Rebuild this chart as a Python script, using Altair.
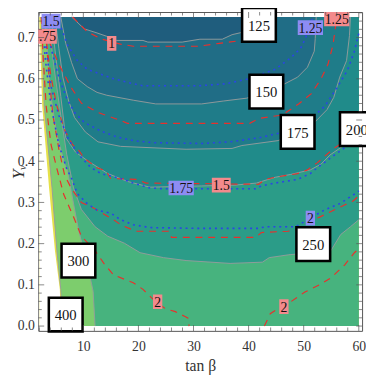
import altair as alt
import pandas as pd

SERIF = "Liberation Serif, Times New Roman, DejaVu Serif, serif"
XMIN, XMAX = 1.83, 60.6
YMIN, YMAX = -0.0117, 0.762
TB0, TB1, YB0, YB1 = 2.0, 60.0, 0.0, 0.75

X_LABELS = [10, 20, 30, 40, 50, 60]
Y_LABELS = [0.0, 0.1, 0.2, 0.3, 0.4, 0.5, 0.6, 0.7]
X_MINOR = [v for v in range(2, 61, 2) if v % 10]
Y_MINOR = [round(0.02 * k, 2) for k in range(1, 39) if k % 5]

# boundary of excluded (white) region
EDGE_TB = [2.0, 2.54, 3.78, 4.85, 5.74, 5.91]
EDGE_Y = [0.75, 0.534, 0.335, 0.183, 0.089, 0.0]
# gray contours (mass)
C400_TB = [2.36, 2.90, 4.32, 5.20, 5.91, 6.27]
C400_Y = [0.75, 0.534, 0.335, 0.183, 0.089, 0.0]
C300_TB = [3.07, 3.96, 5.2, 6.63, 7.16, 7.69, 9.11, 10.89, 11.78, 12.13]
C300_Y = [0.75, 0.571, 0.464, 0.393, 0.375, 0.335, 0.234, 0.141, 0.084, 0.0]
C250_TB = [3.61, 4.67, 5.91, 6.98, 8.22, 9.64, 12.13, 14.44, 17.46, 20.30, 24.56, 28.65, 36.64, 42.50, 43.75, 47.30, 51.74, 54.94, 56.71, 58.49, 60.0]
C250_Y = [0.75, 0.628, 0.511, 0.417, 0.335, 0.283, 0.241, 0.218, 0.201, 0.178, 0.166, 0.159, 0.152, 0.155, 0.166, 0.173, 0.178, 0.183, 0.222, 0.241, 0.258]
C200_TB = [4.14, 5.03, 5.91, 6.80, 8.58, 10.89, 14.44, 17.99, 22.08, 31.49, 37.53, 41.44, 44.82, 47.66, 51.21, 53.16, 54.76, 57.25, 60.0]
C200_Y = [0.75, 0.651, 0.557, 0.457, 0.422, 0.400, 0.370, 0.351, 0.337, 0.340, 0.342, 0.347, 0.361, 0.368, 0.379, 0.393, 0.415, 0.438, 0.482]
C175_TB = [4.85, 5.56, 6.27, 7.34, 8.40, 10.36, 12.66, 16.75, 28.65, 37.00, 38.78, 45.36, 48.90, 52.10, 54.23, 55.47, 56.54, 57.78, 58.31, 58.49]
C175_Y = [0.75, 0.674, 0.604, 0.546, 0.506, 0.471, 0.447, 0.436, 0.429, 0.431, 0.438, 0.450, 0.471, 0.496, 0.525, 0.555, 0.604, 0.644, 0.705, 0.75]
C150_TB = [5.91, 6.80, 7.87, 8.93, 10.71, 12.49, 14.26, 19.06, 23.14, 31.49, 35.40, 39.67, 43.22, 46.59, 48.90, 50.68, 51.92, 52.10, 52.27]
C150_Y = [0.75, 0.686, 0.639, 0.600, 0.581, 0.567, 0.560, 0.548, 0.539, 0.539, 0.546, 0.553, 0.567, 0.588, 0.604, 0.628, 0.667, 0.698, 0.75]
C125_TB = [7.87, 10.18, 12.31, 14.26, 16.04, 20.83, 21.72, 27.94, 31.17, 35.22, 37.00, 38.60, 41.97]
C125_Y = [0.75, 0.721, 0.712, 0.703, 0.693, 0.693, 0.689, 0.689, 0.696, 0.696, 0.707, 0.712, 0.75]

# red dashed contours
R1_TB = [8.05, 10.71, 13.38, 16.75, 19.06, 30.96, 34.69, 38.78, 41.44, 44.29, 45.0]
R1_Y = [0.75, 0.714, 0.696, 0.684, 0.679, 0.679, 0.686, 0.693, 0.714, 0.745, 0.75]
R125_TB = [3.07, 3.78, 5.56, 7.69, 9.64, 12.66, 16.75, 17.99, 40.20, 41.97, 45.52, 46.77, 49.08, 51.39, 53.16, 54.40, 55.30, 55.65, 56.0]
R125_Y = [0.75, 0.691, 0.635, 0.581, 0.541, 0.518, 0.499, 0.492, 0.492, 0.504, 0.511, 0.518, 0.539, 0.564, 0.600, 0.635, 0.681, 0.714, 0.75]
R15_TB = [2.90, 3.43, 4.14, 5.20, 6.63, 8.05, 8.93, 10.18, 12.49, 14.09, 14.97, 19.59, 21.37, 41.80, 43.04, 44.82, 48.90, 50.68, 52.45, 55.47, 57.25, 60.0]
R15_Y = [0.75, 0.674, 0.604, 0.534, 0.475, 0.440, 0.431, 0.407, 0.384, 0.377, 0.358, 0.356, 0.347, 0.344, 0.356, 0.361, 0.370, 0.379, 0.396, 0.431, 0.447, 0.506]
R175_TB = [2.72, 3.25, 3.78, 4.49, 5.56, 6.63, 7.87, 9.64, 11.95, 15.50, 16.75, 19.59, 25.63, 26.0, 30.96, 41.26, 42.33, 47.12, 48.90, 50.68, 52.98, 56.54, 59.02, 60.0]
R175_Y = [0.75, 0.698, 0.604, 0.511, 0.429, 0.365, 0.333, 0.300, 0.286, 0.258, 0.246, 0.230, 0.230, 0.215, 0.215, 0.215, 0.227, 0.230, 0.234, 0.251, 0.265, 0.288, 0.304, 0.316]
R2A_TB = [2.36, 2.72, 3.25, 4.14, 5.20, 6.45, 8.22, 9.64, 12.13, 13.73, 15.50, 19.06, 20.83, 23.14, 24.92, 26.70, 28.47, 29.0, 29.2]
R2A_Y = [0.75, 0.651, 0.534, 0.440, 0.382, 0.319, 0.265, 0.218, 0.183, 0.152, 0.124, 0.105, 0.089, 0.059, 0.042, 0.035, 0.023, 0.019, 0.0]
R2B_TB = [42.86, 43.93, 45.36, 47.66, 50.14, 52.98, 54.94, 57.42, 59.20, 60.0]
R2B_Y = [0.0, 0.030, 0.042, 0.059, 0.082, 0.101, 0.117, 0.148, 0.178, 0.187]

# blue dotted contours
B125_TB = [5.20, 6.04, 7.16, 8.93, 10.71, 13.20, 15.50, 19.06, 20.83, 30.96, 35.94, 40.02, 44.82, 47.66, 49.44, 50.32, 51.21, 51.74]
B125_Y = [0.75, 0.721, 0.681, 0.644, 0.623, 0.611, 0.600, 0.588, 0.583, 0.583, 0.588, 0.600, 0.623, 0.651, 0.674, 0.698, 0.733, 0.75]
B15_TB = [3.43, 4.14, 5.56, 6.98, 8.40, 10.18, 13.20, 16.04, 19.06, 22.61, 31.49, 36.64, 41.97, 45.52, 47.30, 51.39, 53.87, 56.18, 57.96, 59.20, 60.0]
B15_Y = [0.75, 0.674, 0.604, 0.553, 0.518, 0.494, 0.473, 0.459, 0.450, 0.445, 0.443, 0.447, 0.457, 0.468, 0.480, 0.504, 0.534, 0.581, 0.621, 0.667, 0.710]
B175_TB = [2.72, 3.25, 4.14, 5.56, 7.34, 9.11, 11.24, 13.20, 16.75, 19.06, 22.08, 24.92, 31.17, 41.26, 42.33, 44.82, 48.90, 51.21, 52.45, 53.69, 56.00, 57.78, 60.0]
B175_Y = [0.75, 0.674, 0.581, 0.511, 0.452, 0.417, 0.386, 0.370, 0.358, 0.347, 0.335, 0.333, 0.333, 0.333, 0.340, 0.347, 0.356, 0.370, 0.384, 0.396, 0.419, 0.436, 0.461]
B2_TB = [2.54, 3.07, 4.14, 5.56, 6.98, 7.87, 8.93, 10.71, 12.49, 14.97, 16.75, 19.06, 22.08, 30.96, 41.80, 43.04, 48.54, 51.21, 53.69, 56.54, 59.56, 60.0]
B2_Y = [0.75, 0.651, 0.534, 0.440, 0.382, 0.358, 0.321, 0.297, 0.281, 0.274, 0.258, 0.246, 0.239, 0.237, 0.237, 0.241, 0.241, 0.262, 0.281, 0.297, 0.323, 0.328]

# labels
GRAY_LBL = ["125", "150", "175", "200", "250", "300", "400"]
GRAY_TB = [41.88, 43.22, 48.90, 59.65, 51.74, 9.11, 6.80]
GRAY_Y = [0.731, 0.569, 0.471, 0.478, 0.199, 0.159, 0.028]
RED_LBL = ["1", "1.75", "1.25", "1.5", "2", "2"]
RED_TB = [15.15, 2.9, 56.0, 35.04, 23.49, 46.41]
RED_Y = [0.686, 0.703, 0.745, 0.342, 0.059, 0.047]
BLUE_LBL = ["1.5", "1.25", "1.75", "2"]
BLUE_TB = [4.14, 51.21, 27.76, 51.21]
BLUE_Y = [0.740, 0.724, 0.335, 0.262]

COLORS = ["#1f5d7d", "#206d86", "#1f7c89", "#208b8a", "#2b9c88", "#47b37e", "#7dcd6d", "#e6e14a"]

W, H = 331, 326
SX = alt.Scale(domain=[XMIN, XMAX], nice=False, zero=False)
SY = alt.Scale(domain=[YMIN, YMAX], nice=False, zero=False)
AX = alt.Axis(values=X_LABELS, format="d", title="tan β", ticks=False, domain=False, grid=False,
              labelFont=SERIF, labelFontSize=14, labelColor="#333", labelPadding=9,
              titleFont=SERIF, titleFontSize=16, titleFontWeight="normal", titleColor="#333", titlePadding=5)
AY = alt.Axis(values=Y_LABELS, format=".1f", title="Yᵥ", ticks=False, domain=False, grid=False,
              labelFont=SERIF, labelFontSize=14, labelColor="#333", labelPadding=4,
              titleFont=SERIF, titleFontSize=18, titleFontWeight="normal", titleFontStyle="italic",
              titleColor="#333", titleX=-20, titleY=H / 2, titleAngle=270,
              titleAlign="center", titleBaseline="middle")


def X(f):
    return alt.X(f, type="quantitative", scale=SX, axis=AX)


def Y(f):
    return alt.Y(f, type="quantitative", scale=SY, axis=AY)


def region_right(tbs, ys):
    rows = [dict(tb=a, lo=b, hi=YB1) for a, b in zip(tbs, ys)]
    rows.append(dict(tb=TB1, lo=YB0, hi=YB1))
    return pd.DataFrame(rows)


def region_inside(tbs, ys):
    return pd.DataFrame([dict(tb=a, lo=b, hi=YB1) for a, b in zip(tbs, ys)])


def region_left(tbs, ys):
    return pd.DataFrame([dict(tb=a, lo=YB0, hi=b) for a, b in zip(tbs, ys)])


def area(df, color):
    return alt.Chart(df).mark_area(color=color, opacity=1).encode(
        x=X("tb"), y=Y("lo"), y2=alt.Y2("hi"))


base = pd.DataFrame([dict(tb=TB0, lo=YB0, hi=YB1), dict(tb=TB1, lo=YB0, hi=YB1)])
layers = [
    area(base, COLORS[7]),
    area(region_right(C400_TB, C400_Y), COLORS[6]),
    area(region_right(C300_TB, C300_Y), COLORS[5]),
    area(region_inside(C250_TB, C250_Y), COLORS[4]),
    area(region_inside(C200_TB, C200_Y), COLORS[3]),
    area(region_inside(C175_TB, C175_Y), COLORS[2]),
    area(region_inside(C150_TB, C150_Y), COLORS[1]),
    area(region_inside(C125_TB, C125_Y), COLORS[0]),
    area(region_left(EDGE_TB, EDGE_Y), "#ffffff"),
]


def line_df(series):
    rows = []
    for name, (tbs, ys) in series.items():
        for i, (a, b) in enumerate(zip(tbs, ys)):
            rows.append(dict(name=name, i=i, tb=a, y=b))
    return pd.DataFrame(rows)


def lines(series, **kw):
    return alt.Chart(line_df(series)).mark_line(**kw).encode(
        x=X("tb"), y=Y("y"), detail="name:N", order="i:Q")


layers.append(lines({"400": (C400_TB, C400_Y), "300": (C300_TB, C300_Y), "250": (C250_TB, C250_Y),
                     "200": (C200_TB, C200_Y), "175": (C175_TB, C175_Y), "150": (C150_TB, C150_Y),
                     "125": (C125_TB, C125_Y)},
                    color="#959c9c", strokeWidth=1, opacity=0.95))
layers.append(lines({"r1": (R1_TB, R1_Y), "r125": (R125_TB, R125_Y), "r15": (R15_TB, R15_Y),
                     "r175": (R175_TB, R175_Y), "r2a": (R2A_TB, R2A_Y), "r2b": (R2B_TB, R2B_Y)},
                    color="#e8302c", strokeWidth=1.2, strokeDash=[7, 6]))
layers.append(lines({"b125": (B125_TB, B125_Y), "b15": (B15_TB, B15_Y), "b175": (B175_TB, B175_Y),
                     "b2": (B2_TB, B2_Y)},
                    color="#2a45e6", strokeWidth=1.6, strokeDash=[2, 4]))


def box_table(labels, tbs, ys):
    rows = []
    for t, a, b in zip(labels, tbs, ys):
        w = sum(3.3 if ch == "." else 6.5 for ch in t) + 3
        r = 15 / w
        rows.append(dict(tb=a, y=b, text=t, shape=f"M-1,-{r:.3f}H1V{r:.3f}H-1Z", size=w * w))
    return pd.DataFrame(rows)


for lbl, tbs, ys, fill in [(RED_LBL, RED_TB, RED_Y, "#f38a8c"), (BLUE_LBL, BLUE_TB, BLUE_Y, "#8d8cf3")]:
    df = box_table(lbl, tbs, ys)
    layers.append(alt.Chart(df).mark_point(filled=True, color=fill, opacity=1, strokeWidth=0, clip=True).encode(
        x=X("tb"), y=Y("y"), shape=alt.Shape("shape:N", scale=None), size=alt.Size("size:Q", scale=None)))
    layers.append(alt.Chart(df).mark_text(font=SERIF, fontSize=14, color="#111", baseline="middle",
                                          align="center", clip=True, dy=1).encode(
        x=X("tb"), y=Y("y"), text="text:N"))

gdf = pd.DataFrame(dict(tb=GRAY_TB, y=GRAY_Y, text=GRAY_LBL))
layers.append(alt.Chart(gdf).mark_square(size=1190, filled=True, color="white", opacity=1,
                                         stroke="black", strokeWidth=2.6).encode(x=X("tb"), y=Y("y")))
layers.append(alt.Chart(gdf).mark_text(font=SERIF, fontSize=15, color="#111", baseline="middle",
                                       align="center", dy=1).encode(x=X("tb"), y=Y("y"), text="text:N"))

# frame ticks (pointing inward)
xt_major = pd.DataFrame(dict(v=X_LABELS))
xt_minor = pd.DataFrame(dict(v=X_MINOR))
yt_major = pd.DataFrame(dict(v=Y_LABELS))
yt_minor = pd.DataFrame(dict(v=Y_MINOR))
TICK = "#555"
for df, ln in [(xt_major, 6), (xt_minor, 3.5)]:
    d = df.assign(lo=YMIN, hi=YMAX)
    layers.append(alt.Chart(d).mark_tick(orient="vertical", size=ln, thickness=1, color=TICK, yOffset=-ln / 2)
                  .encode(x=X("v"), y=Y("lo")))
    layers.append(alt.Chart(d).mark_tick(orient="vertical", size=ln, thickness=1, color=TICK, yOffset=ln / 2)
                  .encode(x=X("v"), y=Y("hi")))
for df, ln in [(yt_major, 6), (yt_minor, 3.5)]:
    d = df.assign(lo=XMIN, hi=XMAX)
    layers.append(alt.Chart(d).mark_tick(orient="horizontal", size=ln, thickness=1, color=TICK, xOffset=ln / 2)
                  .encode(y=Y("v"), x=X("lo")))
    layers.append(alt.Chart(d).mark_tick(orient="horizontal", size=ln, thickness=1, color=TICK, xOffset=-ln / 2)
                  .encode(y=Y("v"), x=X("hi")))

chart = alt.layer(*layers).properties(
    width=W, height=H,
    autosize=alt.AutoSizeParams(type="none"),
    padding={"left": 31, "top": 0, "right": 4, "bottom": 41},
    background="white",
).configure_view(stroke="#555", strokeWidth=1)

chart.save("out.html", embed_options={"renderer": "svg", "actions": False})
